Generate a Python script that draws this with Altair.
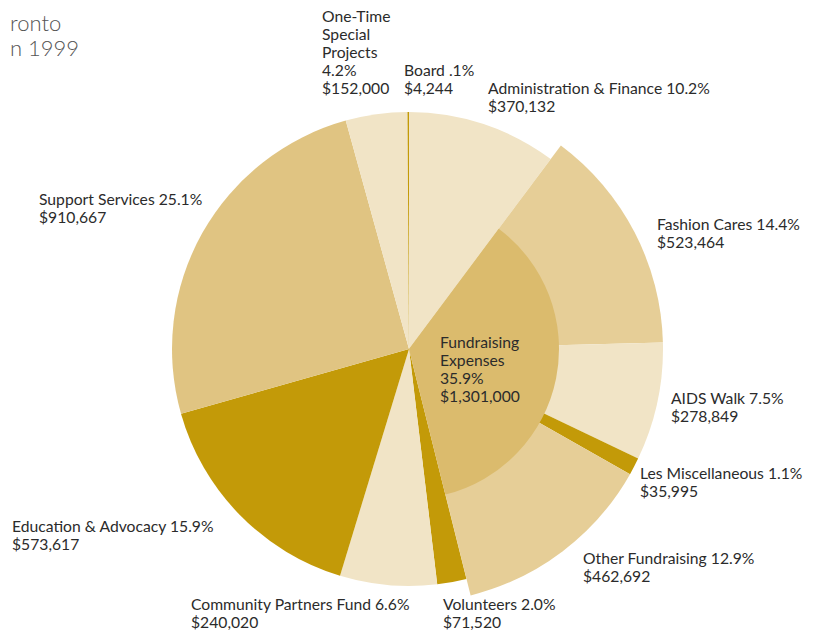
import math
import altair as alt
import pandas as pd

# ---- data ----
categories = ["Administration & Finance", "Fashion Cares", "AIDS Walk", "Les Miscellaneous",
              "Other Fundraising", "Volunteers", "Community Partners Fund",
              "Education & Advocacy", "Support Services", "One-Time Special Projects", "Board"]
percents = [10.2, 14.4, 7.5, 1.1, 12.9, 2.0, 6.6, 15.9, 25.1, 4.2, 0.1]
amounts = [370132, 523464, 278849, 35995, 462692, 71520, 240020, 573617, 910667, 152000, 4244]
groups = ["Other", "Fundraising", "Fundraising", "Fundraising", "Fundraising",
          "Other", "Other", "Other", "Other", "Other", "Other"]
pct_text = ["10.2%", "14.4%", "7.5%", "1.1%", "12.9%", "2.0%", "6.6%", "15.9%", "25.1%", "4.2%", ".1%"]
amount_text = ["$370,132", "$523,464", "$278,849", "$35,995", "$462,692", "$71,520",
               "$240,020", "$573,617", "$910,667", "$152,000", "$4,244"]

fund_label = "Fundraising Expenses"
fund_pct = 35.9
fund_amount_text = "$1,301,000"

title_lines = ["ronto", "n 1999"]

# ---- styles / layout ----
slice_colors = ["#F1E4C6", "#E6CE97", "#F1E4C6", "#C39A08", "#E6CE97", "#C39A08",
                "#F1E4C6", "#C39A08", "#E0C482", "#F1E4C6", "#C39A08"]
inner_color = "#DBBB6D"
CX, CY = 401, 341
R_OTHER, R_FUND, R_INNER = 237, 254, 150
FONT = "Lato"

label_pos = {
    "Administration & Finance": (480, 86),
    "Fashion Cares": (649, 222),
    "AIDS Walk": (663, 396),
    "Les Miscellaneous": (632, 471),
    "Other Fundraising": (575, 556),
    "Volunteers": (435, 602),
    "Community Partners Fund": (183, 602),
    "Education & Advocacy": (4, 524),
    "Support Services": (31, 197),
    "One-Time Special Projects": (314, 14),
    "Board": (396, 68),
}
fund_pos = (432, 340)

df = pd.DataFrame({
    "category": categories,
    "pct": percents,
    "amount": amounts,
    "group": groups,
    "order": list(range(len(categories))),
})

theta_scale = alt.Scale(domain=[0, 100], range=[0, 2 * math.pi])
color = alt.Color("category:N", scale=alt.Scale(domain=categories, range=slice_colors), legend=None)

base = alt.Chart(df).transform_window(
    cum="sum(pct)", sort=[{"field": "order"}], frame=[None, 0]
).transform_calculate(start="datum.cum - datum.pct")

outer_other = base.transform_filter("datum.group == 'Other'").mark_arc(radius=R_OTHER).encode(
    theta=alt.Theta("start:Q", scale=theta_scale), theta2="cum:Q", color=color,
    x=alt.value(CX), y=alt.value(CY))
outer_fund = base.transform_filter("datum.group == 'Fundraising'").mark_arc(radius=R_FUND).encode(
    theta=alt.Theta("start:Q", scale=theta_scale), theta2="cum:Q", color=color,
    x=alt.value(CX), y=alt.value(CY))

inner = base.transform_filter("datum.group == 'Fundraising'").transform_aggregate(
    s="min(start)", e="max(cum)"
).mark_arc(radius=R_INNER, color=inner_color).encode(
    theta=alt.Theta("s:Q", scale=theta_scale), theta2="e:Q",
    x=alt.value(CX), y=alt.value(CY))

# labels
rows = []
for c, p, a in zip(categories, pct_text, amount_text):
    if c == "One-Time Special Projects":
        txt = ["One-Time", "Special", "Projects", p, a]
    else:
        txt = [c + " " + p, a]
    lx, ly = label_pos[c]
    rows.append({"txt": "\n".join(txt), "lx": lx, "ly": ly})
rows.append({"txt": "\n".join(["Fundraising", "Expenses", f"{fund_pct}%", fund_amount_text]),
             "lx": fund_pos[0], "ly": fund_pos[1]})
ldf = pd.DataFrame(rows)

labels = alt.Chart(ldf).mark_text(
    align="left", baseline="alphabetic", font=FONT, fontSize=15.7, lineHeight=18,
    color="#2b2b2b", lineBreak="\n"
).encode(x=alt.X("lx:Q", scale=None), y=alt.Y("ly:Q", scale=None), text="txt:N")

tdf = pd.DataFrame({"t": title_lines, "tx": [2, 2], "ty": [23, 48]})
title = alt.Chart(tdf).mark_text(
    align="left", baseline="alphabetic", font=FONT, fontSize=22, fontWeight=300, color="#555555"
).encode(x=alt.X("tx:Q", scale=None), y=alt.Y("ty:Q", scale=None), text="t:N")

chart = alt.layer(outer_other, outer_fund, inner, labels, title).properties(
    width=798, height=622, padding=0, autosize="none"
).configure_view(stroke=None)

chart.save("out.html", embed_options={"renderer": "svg", "actions": False})
